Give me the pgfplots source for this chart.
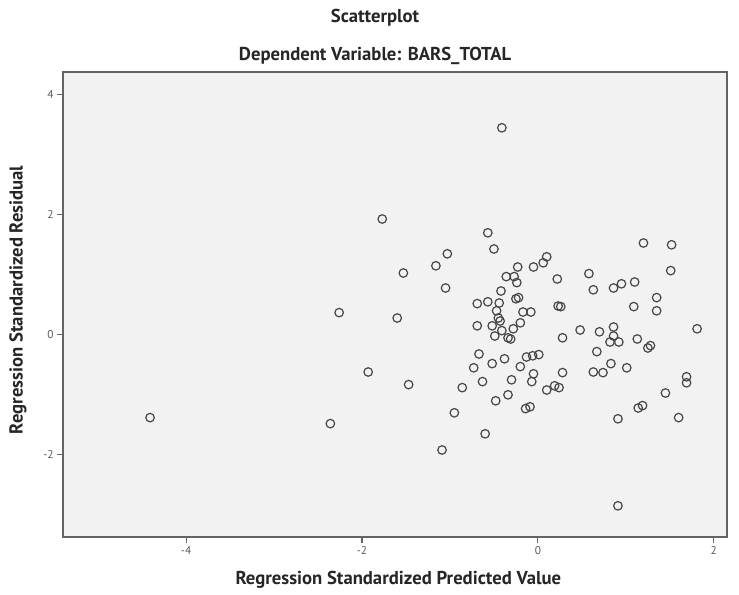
\documentclass[border=0pt]{standalone}
\usepackage{pgfplots}
\pgfplotsset{compat=1.18}
\usepackage{fontspec}
\setmainfont{PT Sans}
\definecolor{plotbg}{RGB}{242,242,242}
\definecolor{framegray}{RGB}{100,100,100}
\definecolor{markgray}{RGB}{70,70,70}

\begin{document}
\begin{tikzpicture}
  \path[use as bounding box] (-47.25pt,-42.75pt) rectangle (507pt,402.75pt);
  \begin{axis}[
    scale only axis,
    width=498pt, height=348.75pt,
    xmin=-5.40, xmax=2.15,
    ymin=-3.37, ymax=4.38,
    xtick={-4,-2,0,2}, ytick={-2,0,2,4},
    axis background/.style={fill=plotbg},
    axis line style={framegray, line width=1.1pt},
    tick align=outside, tick pos=left,
    major tick length=4.5pt,
    tick style={framegray, line width=0.8pt},
    tick label style={font=\fontsize{8.5}{10}\selectfont, text=black!65},
    /pgf/number format/assume math mode=true,
    xticklabel style={yshift=1pt},
    yticklabel style={xshift=1pt},
    xlabel={\textbf{Regression Standardized Predicted Value}},
    ylabel={\textbf{Regression Standardized Residual}},
    xlabel style={at={(axis description cs:0.505,-0.0925)}, anchor=center,
      font=\fontsize{14}{16}\selectfont, text=black!85},
    ylabel style={at={(axis description cs:-0.068,0.51)}, anchor=center,
      font=\fontsize{14}{16}\selectfont, text=black!85},
    clip=false,
  ]
    \addplot[only marks, mark=o, mark size=3.2pt,
      mark options={draw=markgray, line width=0.9pt}] coordinates {
      (-4.41,-1.38) (-2.36,-1.48) (-2.26,0.37) (-1.93,-0.62) (-1.77,1.93)
      (-1.60,0.28) (-1.53,1.03) (-1.47,-0.83) (-1.16,1.15) (-1.03,1.35)
      (-1.05,0.78) (-0.95,-1.30) (-0.86,-0.88) (-1.09,-1.92) (-0.73,-0.55)
      (-0.69,0.52) (-0.69,0.15) (-0.67,-0.32) (-0.63,-0.78) (-0.60,-1.65)
      (-0.57,1.70) (-0.50,1.43) (-0.57,0.55) (-0.52,0.15) (-0.49,-0.02)
      (-0.52,-0.48) (-0.48,-1.10) (-0.47,0.40) (-0.45,0.28) (-0.43,0.23)
      (-0.44,0.53) (-0.42,0.73) (-0.41,0.07) (-0.38,-0.40) (-0.36,0.97)
      (-0.27,0.97) (-0.24,0.87) (-0.34,-0.05) (-0.31,-0.07) (-0.34,-1.00)
      (-0.30,-0.75) (-0.28,0.10) (-0.25,0.60) (-0.22,0.62) (-0.23,1.13)
      (-0.20,0.20) (-0.20,-0.53) (-0.17,0.38) (-0.08,0.38) (-0.14,-1.23)
      (-0.09,-1.20) (-0.13,-0.37) (-0.06,-0.35) (0.01,-0.33) (-0.07,-0.78)
      (-0.05,-0.65) (-0.05,1.13) (0.06,1.20) (0.10,1.30) (0.10,-0.92)
      (0.19,-0.85) (0.24,-0.88) (0.22,0.93) (0.23,0.48) (0.26,0.47)
      (0.28,-0.05) (0.28,-0.63) (0.48,0.08) (0.58,1.02) (0.63,0.75)
      (0.63,-0.62) (0.67,-0.28) (0.70,0.05) (0.74,-0.63) (0.83,-0.48)
      (0.82,-0.12) (0.86,0.13) (0.86,-0.02) (0.86,0.78) (0.92,-0.12)
      (0.91,-1.40) (0.95,0.85) (1.01,-0.55) (1.10,0.88) (1.09,0.47)
      (1.13,-0.07) (1.14,-1.22) (1.19,-1.18) (1.20,1.53) (1.25,-0.22)
      (1.28,-0.18) (1.35,0.62) (1.35,0.40) (1.45,-0.97) (1.51,1.07)
      (1.52,1.50) (1.60,-1.38) (1.69,-0.70) (1.69,-0.80) (1.81,0.10)
      (-0.41,3.45) (0.91,-2.85)
    };
    \node[font=\bfseries\fontsize{14}{16}\selectfont, text=black!85, anchor=center]
      at (axis description cs:0.47,1.116) {Scatterplot};
    \node[font=\bfseries\fontsize{14}{16}\selectfont, text=black!85, anchor=center]
      at (axis description cs:0.47,1.034) {Dependent Variable: BARS\_TOTAL};
  \end{axis}
\end{tikzpicture}
\end{document}
